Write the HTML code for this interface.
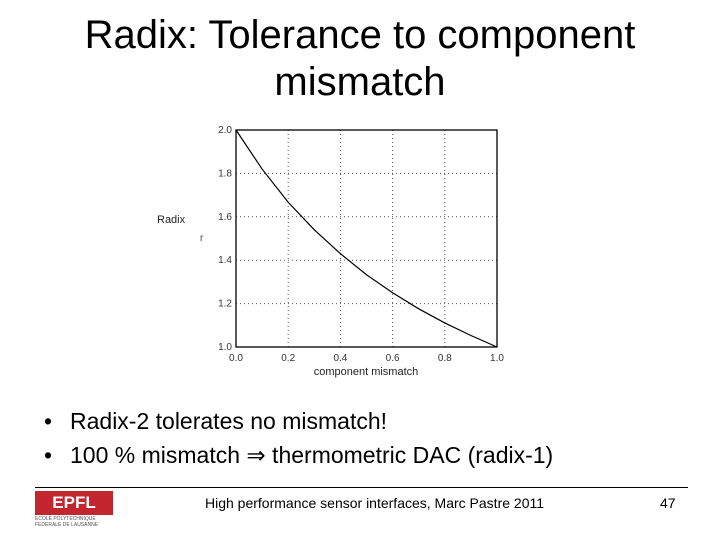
<!DOCTYPE html>
<html><head><meta charset="utf-8"><style>
body{margin:0;width:720px;height:540px;background:#fff;font-family:"Liberation Sans",sans-serif;position:relative;overflow:hidden}
.abs{position:absolute}
.b{position:relative;padding-left:26px}
.b span{position:absolute;left:0}
</style></head><body>
<div class="abs" style="left:0;width:720px;top:12px;text-align:center;font-size:40px;line-height:47px;color:#000">Radix: Tolerance to component<br>mismatch</div>
<svg class="abs" style="left:0;top:0" width="720" height="540">
<g id="grid"></g>
<rect x="236" y="130" width="261" height="217" fill="none" stroke="#000" stroke-width="1.3"/>
<g id="ticks" font-size="10" fill="#333"></g>
<path id="curve" fill="none" stroke="#000" stroke-width="1.2"/>
<text x="157" y="223" font-size="11" fill="#222">Radix</text>
<text x="200" y="241" font-size="10" fill="#444">r</text>
<text x="366" y="375" font-size="11" fill="#222" text-anchor="middle">component mismatch</text>
</svg>
<div class="abs" style="left:44px;top:404px;font-size:23px;line-height:34px;white-space:nowrap">
<div class="b"><span>•</span>Radix-2 tolerates no mismatch!</div>
<div class="b"><span>•</span>100 % mismatch &rArr; thermometric DAC (radix-1)</div>
</div>
<div class="abs" style="left:35px;top:487px;width:653px;height:1px;background:#000"></div>
<div class="abs" style="left:35px;top:491px;width:78px;height:24px;background:#c3262e;color:#fff;font-size:17px;font-weight:bold;text-align:center;line-height:24px">EPFL</div>
<div class="abs" style="left:35px;top:516px;font-size:5px;line-height:6px;color:#555">ECOLE POLYTECHNIQUE<br>FEDERALE DE LAUSANNE</div>
<div class="abs" style="left:205px;top:495px;font-size:14px;color:#000">High performance sensor interfaces, Marc Pastre 2011</div>
<div class="abs" style="left:660px;top:495px;font-size:14px;color:#000">47</div>
<script>
const xTicks=[0,0.2,0.4,0.6,0.8,1.0];
const yTicks=[1.0,1.2,1.4,1.6,1.8,2.0];
const mismatch=[0,0.1,0.2,0.3,0.4,0.5,0.6,0.7,0.8,0.9,1.0];
const radix=[2.0,1.82,1.667,1.54,1.43,1.333,1.25,1.176,1.111,1.053,1.0];
const X0=236,X1=497,Y0=347,Y1=130;
const sx=v=>X0+(v-0)/(1-0)*(X1-X0);
const sy=v=>Y0-(v-1)/(2-1)*(Y0-Y1);
const NS="http://www.w3.org/2000/svg";
const grid=document.getElementById('grid'),ticks=document.getElementById('ticks');
xTicks.forEach(t=>{
 if(t>0&&t<1){const l=document.createElementNS(NS,'line');
 
 
 l.setAttribute('x1',sx(t));l.setAttribute('x2',sx(t));l.setAttribute('y1',Y1);l.setAttribute('y2',Y0);
 l.setAttribute('stroke','#555');l.setAttribute('stroke-dasharray','1,3');grid.appendChild(l);}
 const tx=document.createElementNS(NS,'text');
 
 
 tx.setAttribute('x',sx(t));tx.setAttribute('y',Y0+14);tx.setAttribute('text-anchor','middle');
 tx.textContent=t.toFixed(1);ticks.appendChild(tx);
});
yTicks.forEach(t=>{
 if(t>1&&t<2){const l=document.createElementNS(NS,'line');
 
 
 l.setAttribute('y1',sy(t));l.setAttribute('y2',sy(t));l.setAttribute('x1',X0);l.setAttribute('x2',X1);
 l.setAttribute('stroke','#555');l.setAttribute('stroke-dasharray','1,3');grid.appendChild(l);}
 const tx=document.createElementNS(NS,'text');
 
 
 tx.setAttribute('x',X0-4);tx.setAttribute('y',sy(t)+3);tx.setAttribute('text-anchor','end');
 tx.textContent=t.toFixed(1);ticks.appendChild(tx);
});
document.getElementById('curve').setAttribute('d',mismatch.map((m,i)=>(i?'L':'M')+sx(m)+','+sy(radix[i])).join(''));
</script>
</body></html>
